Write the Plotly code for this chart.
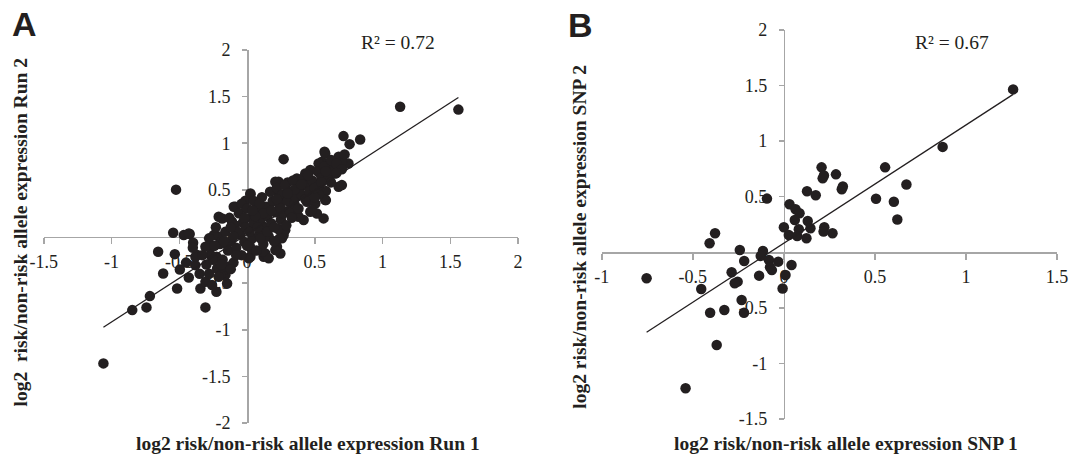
import plotly.graph_objects as go

# ---------------- data ----------------
# Panel A: Run 1 (x) vs Run 2 (y)
a_run1 = [-1.06, 1.13, 1.56, 0.835, 0.712, 0.757, 0.688, 0.749, 0.572, 0.553,
          0.626, 0.651, 0.467, 0.540, 0.676, 0.582, 0.582, 0.565, 0.270, 0.233,
          0.300, 0.381, 0.437, 0.442, 0.504, 0.516, 0.467, 0.368, 0.418, 0.233,
          0.025, -0.012, -0.086, -0.524, -0.545, -0.467, -0.423, -0.398, -0.656, -0.533,
          -0.619, -0.496, -0.516, -0.717, -0.742, -0.847, -0.307, -0.226, -0.344, -0.307,
          -0.430, -0.368, -0.381, -0.147, -0.160, -0.216, -0.258, -0.270, -0.221, -0.172,
          -0.226, -0.197, 0.246, 0.221, 0.270, 0.123, 0.025, -0.209, -0.098, 0.025,
          0.209, 0.368, 0.430, 0.528, 0.577, 0.676, 0.700, 0.700, 0.577, 0.530,
          0.479, 0.381, 0.282, 0.258, 0.209, 0.135, 0.037, -0.135, -0.209, -0.258,
          -0.430, -0.381, -0.307, -0.246, -0.184, -0.111, -0.040, 0.160, 0.013, 0.114,
          0.270, 0.240,
          -0.30, -0.28, -0.25, -0.23, -0.20, -0.18, -0.16, -0.14, -0.13, -0.12,
          -0.10, -0.09, -0.08, -0.06, -0.05, -0.04, -0.03, -0.02, 0.00, 0.01,
          0.02, 0.03, 0.04, 0.05, 0.06, 0.07, 0.08, 0.09, 0.10, 0.11,
          0.12, 0.13, 0.14, 0.15, 0.16, 0.17, 0.18, 0.19, 0.20, 0.21,
          0.22, 0.23, 0.24, 0.25, 0.26, 0.27, 0.28, 0.29, 0.30, 0.31,
          0.32, 0.33, 0.34, 0.35, 0.36, 0.38, 0.39, 0.40, 0.41, 0.43,
          0.44, 0.46, 0.48, 0.50, 0.52, 0.53, 0.55, 0.57, 0.60, 0.62,
          0.64, 0.66, 0.70,
          -0.07, -0.01, 0.02, 0.05, 0.08, 0.10, 0.12, 0.06, 0.00, -0.02,
          0.15, 0.18, 0.20, 0.22, 0.25, 0.09, -0.10, -0.15, -0.12, 0.04,
          0.45, 0.50, 0.58, 0.62, 0.66, 0.72, 0.35, 0.40, 0.30, 0.55,
          -0.35, -0.33, -0.28, -0.24, -0.19, -0.17, -0.12, -0.08, -0.45, -0.40]
a_run2 = [-1.36, 1.39, 1.36, 1.04, 1.076, 0.99, 0.837, 0.783, 0.908, 0.801,
          0.747, 0.676, 0.712, 0.676, 0.533, 0.487, 0.390, 0.194, 0.829, 0.588,
          0.580, 0.569, 0.622, 0.372, 0.354, 0.247, 0.265, 0.247, 0.176, 0.461,
          0.454, 0.383, 0.318, 0.502, 0.040, 0.015, 0.026, -0.067, -0.164, -0.189,
          -0.396, -0.353, -0.557, -0.639, -0.760, -0.789, -0.760, -0.592, -0.557, -0.486,
          -0.439, -0.199, -0.307, -0.503, -0.414, 0.004, -0.110, -0.199, -0.343, -0.360,
          -0.217, -0.414, -0.182, -0.110, 0.015, -0.217, -0.217, 0.212, 0.318, 0.461,
          0.587, 0.622, 0.676, 0.783, 0.890, 0.855, 0.800, 0.551, 0.390, 0.450,
          0.283, 0.211, 0.068, -0.020, -0.146, -0.182, -0.146, -0.325, -0.432, -0.521,
          0.033, -0.218, -0.110, 0.015, 0.193, 0.158, 0.350, -0.233, -0.233, -0.161,
          0.400, -0.020,
          -0.30, -0.02, -0.25, 0.10, -0.08, -0.25, 0.05, -0.15, 0.20, -0.05,
          -0.28, 0.12, -0.12, 0.25, 0.02, -0.20, 0.15, -0.06, 0.30, 0.08,
          -0.10, 0.20, -0.02, 0.38, 0.12, -0.15, 0.28, 0.02, 0.18, 0.42,
          -0.08, 0.10, 0.32, 0.22, 0.00, 0.48, 0.14, 0.38, -0.05, 0.26,
          0.52, 0.08, 0.34, 0.18, 0.45, 0.25, 0.55, 0.12, 0.38, 0.28,
          0.48, 0.20, 0.60, 0.35, 0.42, 0.30, 0.52, 0.45, 0.62, 0.40,
          0.55, 0.48, 0.60, 0.42, 0.70, 0.55, 0.63, 0.75, 0.62, 0.82,
          0.70, 0.78, 0.72,
          0.05, 0.10, 0.05, 0.15, 0.10, -0.02, 0.25, 0.22, -0.10, 0.20,
          0.05, 0.28, 0.10, 0.40, 0.30, 0.35, 0.00, -0.08, 0.10, 0.28,
          0.66, 0.52, 0.70, 0.58, 0.68, 0.88, 0.50, 0.56, 0.46, 0.58,
          -0.40, -0.20, -0.40, -0.10, -0.30, -0.05, -0.35, -0.20, -0.28, -0.12]

# Panel B: SNP 1 (x) vs SNP 2 (y)
b_snp1 = [1.259, 0.872, 0.556, 0.673, 0.506, 0.604, 0.623, 0.207, 0.213, 0.220,
          0.286, 0.324, 0.318, 0.127, 0.175, -0.093, 0.031, 0.064, 0.086, 0.060,
          0.131, 0.000, 0.082, 0.146, 0.222, 0.267, 0.027, 0.073, 0.124, 0.218,
          -0.378, -0.408, -0.242, -0.115, -0.127, -0.218, -0.082, -0.031, -0.076, 0.042,
          0.009, -0.136, -0.287, -0.754, -0.254, -0.270, -0.454, -0.007, -0.232, -0.405,
          -0.327, -0.219, -0.369, -0.540, -0.066]
b_snp2 = [1.465, 0.948, 0.764, 0.609, 0.481, 0.455, 0.295, 0.764, 0.665, 0.690,
          0.701, 0.591, 0.567, 0.549, 0.513, 0.483, 0.432, 0.387, 0.351, 0.291,
          0.282, 0.225, 0.207, 0.216, 0.225, 0.171, 0.156, 0.147, 0.126, 0.186,
          0.171, 0.081, 0.021, 0.012, -0.033, -0.078, -0.069, -0.084, -0.135, -0.114,
          -0.204, -0.210, -0.180, -0.234, -0.264, -0.279, -0.330, -0.326, -0.429, -0.543,
          -0.519, -0.543, -0.833, -1.223, -0.160]

# trend lines
a_slope, a_intercept = 0.94, 0.023
b_slope, b_intercept = 1.063, 0.082
a_r2_label = "R² = 0.72"
b_r2_label = "R² = 0.67"

# axis ticks
a_xticks = [-1.5, -1, -0.5, 0, 0.5, 1, 1.5, 2]
a_xlabels = ["-1.5", "-1", "-0.5", "0", "0.5", "1", "1.5", "2"]
a_yticks = [-2, -1.5, -1, -0.5, 0, 0.5, 1, 1.5, 2]
a_ylabels = ["-2", "-1.5", "-1", "-0.5", "0", "0.5", "1", "1.5", "2"]
b_xticks = [-1, -0.5, 0, 0.5, 1, 1.5]
b_xlabels = ["-1", "-0.5", "0", "0.5", "1", "1.5"]
b_yticks = [-1.5, -1, -0.5, 0, 0.5, 1, 1.5, 2]
b_ylabels = ["-1.5", "-1", "-0.5", "0", "0.5", "1", "1.5", "2"]

a_xtitle = "log2 risk/non-risk allele expression Run 1"
a_ytitle = "log2  risk/non-risk allele expression Run 2"
b_xtitle = "log2 risk/non-risk allele expression SNP 1"
b_ytitle = "log2 risk/non-risk allele expression SNP 2"

# ---------------- layout ----------------
W, H = 1070, 461
DOT = "#231f20"
AXC = "#a6a6a6"
SERIF = "Liberation Serif"


def dom(px0, px1, py_top, py_bot):
    return [px0 / W, px1 / W], [1 - py_bot / H, 1 - py_top / H]


a_xd, a_yd = dom(43.8, 518.0, 49.9, 423.1)
b_xd, b_yd = dom(601.8, 1057.0, 29.9, 419.1)
a_xr, a_yr = [-1.5, 2], [-2, 2]
b_xr, b_yr = [-1, 1.5], [-1.5, 2]


def zero_pos(domain, rng):
    return domain[0] + (0 - rng[0]) / (rng[1] - rng[0]) * (domain[1] - domain[0])


fig = go.Figure()

for xs, ys, slope, icpt, xa, ya in [
    (a_run1, a_run2, a_slope, a_intercept, "x", "y"),
    (b_snp1, b_snp2, b_slope, b_intercept, "x2", "y2"),
]:
    fig.add_trace(go.Scatter(x=xs, y=ys, mode="markers", xaxis=xa, yaxis=ya,
                             marker=dict(size=10.5, color=DOT, line=dict(width=0)),
                             hoverinfo="x+y", showlegend=False))
    lx = [min(xs), max(xs)]
    fig.add_trace(go.Scatter(x=lx, y=[slope * v + icpt for v in lx], mode="lines",
                             xaxis=xa, yaxis=ya, line=dict(color=DOT, width=1.3),
                             hoverinfo="skip", showlegend=False))

axis_common = dict(showgrid=False, zeroline=False, showline=True, linecolor=AXC,
                   linewidth=1.5, ticks="outside", tickcolor=AXC, tickwidth=1.5,
                   layer="below traces", automargin=False, ticklabeloverflow="allow",
                   tickfont=dict(family=SERIF, size=18, color="#231f20"),
                   fixedrange=True)

fig.update_layout(
    template="none",
    font=dict(family=SERIF, color="#231f20"),
    width=W, height=H, margin=dict(l=0, r=0, t=0, b=0, pad=0),
    paper_bgcolor="white", plot_bgcolor="rgba(0,0,0,0)",
    xaxis=dict(domain=a_xd, range=a_xr, anchor="free", position=zero_pos(a_yd, a_yr),
               tickvals=a_xticks, ticktext=a_xlabels, ticklen=6, ticklabelstandoff=2,
               **axis_common),
    yaxis=dict(domain=a_yd, range=a_yr, anchor="free", position=zero_pos(a_xd, a_xr),
               tickvals=a_yticks, ticktext=a_ylabels, ticklen=5, ticklabelstandoff=8,
               **axis_common),
    xaxis2=dict(domain=b_xd, range=b_xr, anchor="free", position=zero_pos(b_yd, b_yr),
                tickvals=b_xticks, ticktext=b_xlabels, ticklen=6, ticklabelstandoff=2,
                **axis_common),
    yaxis2=dict(domain=b_yd, range=b_yr, anchor="free", position=zero_pos(b_xd, b_xr),
                tickvals=b_yticks, ticktext=b_ylabels, ticklen=5, ticklabelstandoff=8,
                **axis_common),
)


def ann(text, px, py, size, family=SERIF, bold=False, angle=0):
    fig.add_annotation(text=f"<b>{text}</b>" if bold else text, x=px / W, y=1 - py / H,
                       xref="paper", yref="paper", xanchor="center", yanchor="middle",
                       showarrow=False, textangle=angle,
                       font=dict(family=family, size=size, color="#231f20"))


ann(a_xtitle, 308, 443, 19.5, bold=True)
ann(a_ytitle, 19.5, 232, 19.5, bold=True, angle=-90)
ann(b_xtitle, 845.5, 443, 19.5, bold=True)
ann(b_ytitle, 578.7, 237, 19.5, bold=True, angle=-90)
ann(a_r2_label, 398, 42, 19.5)
ann(b_r2_label, 952, 42, 19.5)
ann("A", 24.7, 24.5, 34, family="Liberation Sans", bold=True)
ann("B", 580.7, 24.7, 34, family="Liberation Sans", bold=True)

fig.write_html("out.html",
               config={"displayModeBar": False, "staticPlot": True},
               post_script="document.body.style.margin='0px';"
                           "document.body.style.overflow='hidden';")
